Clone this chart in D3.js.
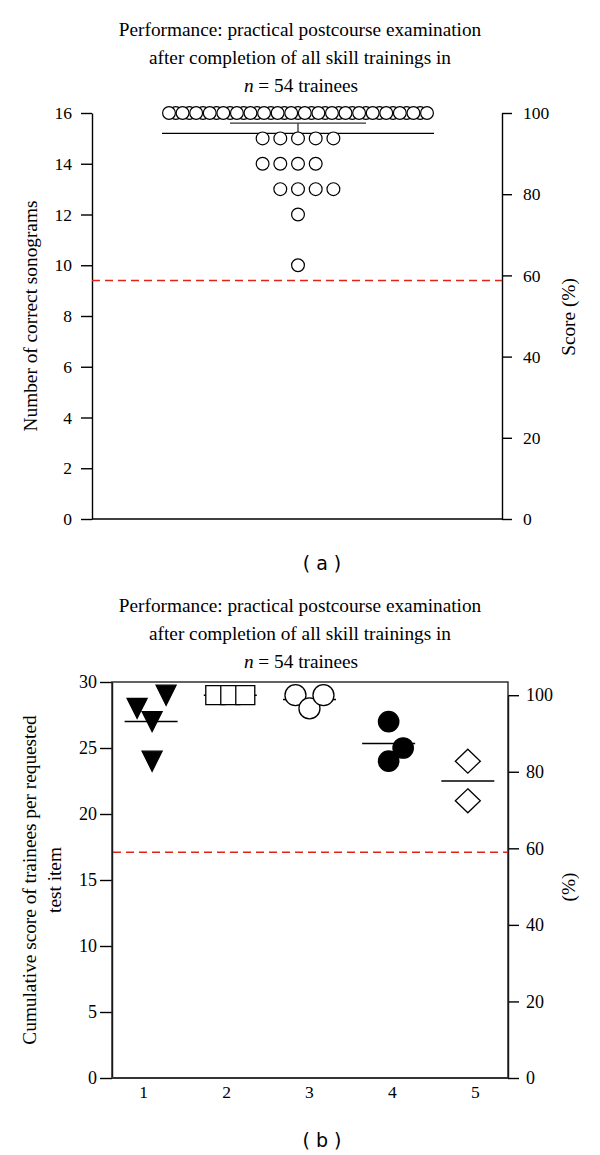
<!DOCTYPE html>
<html><head><meta charset="utf-8">
<script src="https://cdn.jsdelivr.net/npm/d3@7"></script>
<style>
body{margin:0;background:#fff}
svg{display:block}
text{font-family:"Liberation Serif","Times New Roman",serif;fill:#000}
</style>
</head><body>
<svg id="c" width="600" height="1155"></svg>
<script>
// ---------- DATA ----------
const titleLine1 = "Performance: practical postcourse examination";
const titleLine2 = "after completion of all skill trainings in";
const titleLine3 = ["n", " = 54 trainees"];

// Panel (a): number of correct sonograms per trainee (n = 54)
const scoreLevels = [16, 15, 14, 13, 12, 10];
const scoreCounts = [39, 5, 4, 4, 1, 1];
const topMean = 15.2;
const topUpper = 15.6;
const topThreshold = 9.4;
const topLeftTicks = [0, 2, 4, 6, 8, 10, 12, 14, 16];
const topRightTicks = [0, 20, 40, 60, 80, 100];

// Panel (b): cumulative score per requested test item
const items = [1, 2, 3, 4, 5];
const itemScores = [
  [28, 27, 29, 24],
  [29, 29, 29],
  [29, 28, 29],
  [27, 25, 24],
  [24, 21]
];
const itemSymbols = ["triangleDown", "square", "circleOpen", "circleFilled", "diamond"];
const bottomThreshold = 17.1;
const bottomFull = 29;          // value equal to 100 %
const bottomLeftTicks = [0, 5, 10, 15, 20, 25, 30];
const bottomRightTicks = [0, 20, 40, 60, 80, 100];

// ---------- LAYOUT (pixel offsets of markers inside a group) ----------
const dodge = [[-14, 1, 15, 1], [-15, 0, 15], [-14, 0, 14], [0, 14.5, 0], [0, 0]];

const svg = d3.select("#c");
const RED = "#e2231a";
const FT = 19.3, FA = 19.3, FK = 17.5;

function title(yBase) {
  const g = svg.append("g").attr("font-size", FT).attr("text-anchor", "middle");
  g.append("text").attr("x", 300).attr("y", yBase).text(titleLine1);
  g.append("text").attr("x", 300).attr("y", yBase + 28).text(titleLine2);
  const t = g.append("text").attr("x", 301).attr("y", yBase + 56);
  t.append("tspan").attr("font-style", "italic").text(titleLine3[0]);
  t.append("tspan").text(titleLine3[1]);
}

function styleAxis(g, fs) {
  g.attr("font-family", null).attr("font-size", null);
  g.selectAll("text").attr("font-size", fs);
  g.selectAll("path,line").attr("stroke", "#000").attr("stroke-width", 1.4);
}

// ================= PANEL (a) =================
title(36);
const aL = 92, aR = 502, aT = 113, aB = 519;
const yA = d3.scaleLinear().domain([0, 16]).range([aB, aT]);
const yAp = d3.scaleLinear().domain([0, 100]).range([aB, aT]);
const xA = d3.scaleLinear().domain([-1, 1]).range([aL + 1, aR + 1]); // centre at 0

svg.append("g").attr("transform", `translate(${aL},0)`)
  .call(d3.axisLeft(yA).tickValues(topLeftTicks).tickSize(11).tickSizeOuter(0).tickPadding(9))
  .call(g => styleAxis(g, FK));
svg.append("g").attr("transform", `translate(${aR},0)`)
  .call(d3.axisRight(yAp).tickValues(topRightTicks).tickSize(10).tickSizeOuter(0).tickPadding(11))
  .call(g => styleAxis(g, FK));
svg.append("line").attr("x1", aL).attr("x2", aR).attr("y1", aB).attr("y2", aB)
  .attr("stroke", "#000").attr("stroke-width", 1.4);

// threshold
svg.append("line").attr("x1", aL).attr("x2", aR).attr("y1", yA(topThreshold)).attr("y2", yA(topThreshold))
  .attr("stroke", RED).attr("stroke-width", 1.5).attr("stroke-dasharray", "8,5");

// mean line + upper error cap
const cx = xA(0);
svg.append("line").attr("x1", cx - 136).attr("x2", cx + 136).attr("y1", yA(topMean)).attr("y2", yA(topMean))
  .attr("stroke", "#000").attr("stroke-width", 1.3);
svg.append("line").attr("x1", cx).attr("x2", cx).attr("y1", yA(topMean)).attr("y2", yA(topUpper))
  .attr("stroke", "#333").attr("stroke-width", 1.3);
svg.append("line").attr("x1", cx - 68).attr("x2", cx + 68).attr("y1", yA(topUpper)).attr("y2", yA(topUpper))
  .attr("stroke", "#333").attr("stroke-width", 1.3);

// dots
const dots = [];
let evenRow = 0;
scoreLevels.forEach((v, r) => {
  const n = scoreCounts[r];
  const sp = Math.min(17.7, 258 / Math.max(1, n - 1));
  let shift = 0;
  if (n % 2 === 0) { shift = (evenRow % 2 === 0 ? -0.5 : 0.5) * sp; evenRow++; }
  for (let k = 0; k < n; k++) {
    dots.push({ v, dx: (k - (n - 1) / 2) * sp + shift, k });
  }
});
dots.sort((a, b) => (b.k % 2) - (a.k % 2));
svg.append("g").selectAll("circle").data(dots).join("circle")
  .attr("cx", d => cx + d.dx).attr("cy", d => yA(d.v)).attr("r", 6.4)
  .attr("fill", "#fff").attr("stroke", "#000").attr("stroke-width", 1.2);

// axis titles
svg.append("text").attr("transform", `translate(30,316) rotate(-90)`).attr("text-anchor", "middle")
  .attr("dominant-baseline", "central").attr("font-size", FA).text("Number of correct sonograms");
svg.append("text").attr("transform", `translate(568,317) rotate(-90)`).attr("text-anchor", "middle")
  .attr("dominant-baseline", "central").attr("font-size", FA).text("Score (%)");

svg.append("text").attr("x", 322).attr("y", 563).attr("text-anchor", "middle").attr("dominant-baseline", "central")
  .style("font-family", "'DejaVu Sans',sans-serif").attr("font-size", 19).text("( a )");

// ================= PANEL (b) =================
title(612);
const bL = 112, bR = 508, bT = 682, bB = 1078;
const yB = d3.scaleLinear().domain([0, 30]).range([bB, bT]);
const yBp = d3.scaleLinear().domain([0, 100]).range([bB, yB(bottomFull)]);
const xB = d3.scaleLinear().domain([0.625, 5.4]).range([bL, bR]);
const xM = d3.scaleLinear().domain([1, 5]).range([xB(1) + 8, xB(5) - 7]);

svg.append("g").attr("transform", `translate(${bL},0)`)
  .call(d3.axisLeft(yB).tickValues(bottomLeftTicks).tickSize(12).tickSizeOuter(0).tickPadding(3))
  .call(g => styleAxis(g, 18));
svg.append("g").attr("transform", `translate(${bR},0)`)
  .call(d3.axisRight(yBp).tickValues(bottomRightTicks).tickSize(11).tickSizeOuter(0).tickPadding(7))
  .call(g => styleAxis(g, 18));
svg.append("g").attr("transform", `translate(0,${bB})`)
  .call(d3.axisBottom(xB).tickValues(items).tickFormat(d3.format("d")).tickSize(0).tickPadding(8))
  .call(g => { styleAxis(g, 17.5); g.select(".domain").remove(); });
svg.append("rect").attr("x", bL).attr("y", bT).attr("width", bR - bL).attr("height", bB - bT)
  .attr("fill", "none").attr("stroke", "#222").attr("stroke-width", 1.4);
svg.append("line").attr("x1", bL).attr("x2", bR).attr("y1", bB).attr("y2", bB)
  .attr("stroke", "#333").attr("stroke-width", 2);

svg.append("line").attr("x1", bL + 1).attr("x2", bR - 1).attr("y1", yB(bottomThreshold)).attr("y2", yB(bottomThreshold))
  .attr("stroke", RED).attr("stroke-width", 1.5).attr("stroke-dasharray", "8,5");

// mean lines
svg.append("g").selectAll("line").data(items).join("line")
  .attr("x1", d => xM(d) - 26.5).attr("x2", d => xM(d) + 26.5)
  .attr("y1", (d, i) => yB(d3.mean(itemScores[i]))).attr("y2", (d, i) => yB(d3.mean(itemScores[i])))
  .attr("stroke", "#000").attr("stroke-width", 1.5);

const shapes = {
  triangleDown: "M-10,-10L10,-10L0,10Z",
  square: "M-9.5,-9.5H9.5V9.5H-9.5Z",
  circleOpen: d3.arc()({ innerRadius: 0, outerRadius: 10.5, startAngle: 0, endAngle: 2 * Math.PI }),
  circleFilled: d3.arc()({ innerRadius: 0, outerRadius: 10.2, startAngle: 0, endAngle: 2 * Math.PI }),
  diamond: "M0,-12L12.5,0L0,12L-12.5,0Z"
};
const filled = { triangleDown: true, circleFilled: true };
const pts = [];
items.forEach((it, i) => itemScores[i].forEach((v, j) => pts.push({ it, v, sym: itemSymbols[i], dx: dodge[i][j] })));
svg.append("g").selectAll("path").data(pts).join("path")
  .attr("transform", d => `translate(${xM(d.it) + d.dx},${yB(d.v)})`)
  .attr("d", d => shapes[d.sym])
  .attr("fill", d => filled[d.sym] ? "#000" : "#fff")
  .attr("stroke", "#000").attr("stroke-width", 1.3);

// axis titles
const lt = svg.append("text").attr("transform", `translate(0,880) rotate(-90)`).attr("text-anchor", "middle").attr("font-size", FA);
lt.append("tspan").attr("x", 0).attr("y", 36).text("Cumulative score of trainees per requested");
lt.append("tspan").attr("x", 0).attr("y", 61).text("test item");
svg.append("text").attr("transform", `translate(568,887) rotate(-90)`).attr("text-anchor", "middle")
  .attr("dominant-baseline", "central").attr("font-size", FA).text("(%)");

svg.append("text").attr("x", 322).attr("y", 1140).attr("text-anchor", "middle").attr("dominant-baseline", "central")
  .style("font-family", "'DejaVu Sans',sans-serif").attr("font-size", 19).text("( b )");
</script>
</body></html>
